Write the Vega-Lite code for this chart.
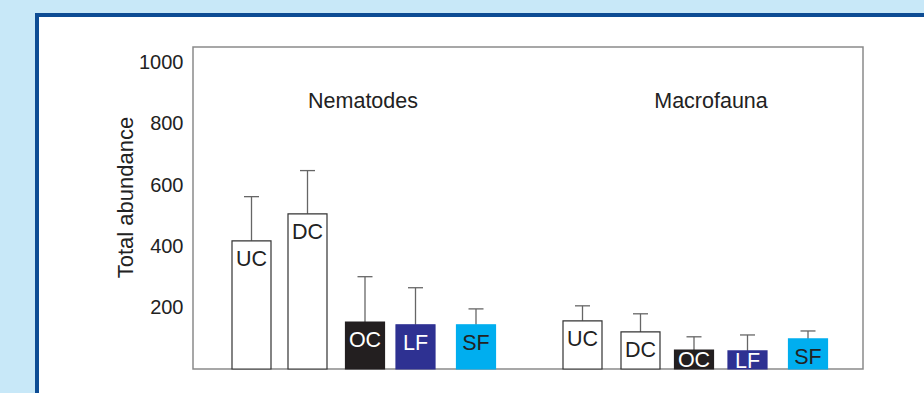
{
  "$schema": "https://vega.github.io/schema/vega-lite/v6.json",
  "width": 670,
  "height": 322,
  "autosize": {"type": "none"},
  "padding": {"left": 193, "top": 47, "right": 61, "bottom": 24},
  "background": "#ffffff",
  "config": {
    "font": "Liberation Sans",
    "view": {"stroke": null},
    "axisY": {
      "grid": false, "ticks": false, "domain": false, "zindex": 2,
      "labelFontSize": 20, "labelColor": "#222222", "labelPadding": 10,
      "titleFontSize": 22, "titleFontWeight": "normal", "titleColor": "#222222",
      "titleAngle": -90, "titleAlign": "center", "titleBaseline": "middle",
      "titleX": -68, "titleY": 150
    }
  },
  "data": {
    "values": [
      {"taxon": "Nematodes", "group": "UC", "pos": 58.5, "value": 418, "err": 562},
      {"taxon": "Nematodes", "group": "DC", "pos": 114.5, "value": 506, "err": 647},
      {"taxon": "Nematodes", "group": "OC", "pos": 172, "value": 153, "err": 301},
      {"taxon": "Nematodes", "group": "LF", "pos": 222.5, "value": 144, "err": 265},
      {"taxon": "Nematodes", "group": "SF", "pos": 283, "value": 144, "err": 196},
      {"taxon": "Macrofauna", "group": "UC", "pos": 389.5, "value": 157, "err": 206},
      {"taxon": "Macrofauna", "group": "DC", "pos": 447.5, "value": 121, "err": 180},
      {"taxon": "Macrofauna", "group": "OC", "pos": 501, "value": 62, "err": 105},
      {"taxon": "Macrofauna", "group": "LF", "pos": 554.5, "value": 59, "err": 111},
      {"taxon": "Macrofauna", "group": "SF", "pos": 615, "value": 98, "err": 124}
    ]
  },
  "layer": [
    {
      "data": {"values": [{}]},
      "mark": {"type": "rect", "fill": "#c8e8f8", "strokeWidth": 0},
      "encoding": {
        "x": {"datum": -400, "type": "quantitative", "scale": {"domain": [0, 670], "nice": false, "zero": false, "padding": 0}, "axis": null},
        "x2": {"datum": 900},
        "y": {"datum": 1400, "type": "quantitative", "scale": {"domain": [0, 1050], "nice": false, "zero": false}, "title": "Total abundance", "axis": {"values": [200, 400, 600, 800, 1000], "format": "d"}},
        "y2": {"datum": 1161}
      }
    },
    {
      "data": {"values": [{}]},
      "mark": {"type": "rect", "fill": "#c8e8f8", "strokeWidth": 0},
      "encoding": {
        "x": {"datum": -400, "type": "quantitative", "scale": {"domain": [0, 670], "nice": false, "zero": false, "padding": 0}, "axis": null},
        "x2": {"datum": -158},
        "y": {"datum": 1400, "type": "quantitative", "scale": {"domain": [0, 1050], "nice": false, "zero": false}, "title": "Total abundance", "axis": {"values": [200, 400, 600, 800, 1000], "format": "d"}},
        "y2": {"datum": -300}
      }
    },
    {
      "data": {"values": [{}]},
      "mark": {"type": "rect", "fill": null, "stroke": "#0d4c94", "strokeWidth": 4},
      "encoding": {
        "x": {"datum": -156, "type": "quantitative", "scale": {"domain": [0, 670], "nice": false, "zero": false, "padding": 0}, "axis": null},
        "x2": {"datum": 900},
        "y": {"datum": 1154, "type": "quantitative", "scale": {"domain": [0, 1050], "nice": false, "zero": false}, "title": "Total abundance", "axis": {"values": [200, 400, 600, 800, 1000], "format": "d"}},
        "y2": {"datum": -300}
      }
    },
    {
      "data": {"values": [{}]},
      "mark": {"type": "rect", "fill": null, "stroke": "#8a8a8a", "strokeWidth": 1.5},
      "encoding": {
        "x": {"datum": 0, "type": "quantitative", "scale": {"domain": [0, 670], "nice": false, "zero": false, "padding": 0}, "axis": null},
        "x2": {"datum": 670},
        "y": {"datum": 1050, "type": "quantitative", "scale": {"domain": [0, 1050], "nice": false, "zero": false}, "title": "Total abundance", "axis": {"values": [200, 400, 600, 800, 1000], "format": "d"}},
        "y2": {"datum": 0}
      }
    },
    {
      "mark": {"type": "rule", "color": "#666666", "strokeWidth": 1.3},
      "encoding": {
        "x": {"field": "pos", "type": "quantitative", "scale": {"domain": [0, 670], "nice": false, "zero": false, "padding": 0}, "axis": null},
        "y": {"field": "value", "type": "quantitative", "scale": {"domain": [0, 1050], "nice": false, "zero": false}, "title": "Total abundance", "axis": {"values": [200, 400, 600, 800, 1000], "format": "d"}},
        "y2": {"field": "err"}
      }
    },
    {
      "mark": {"type": "rule", "color": "#666666", "strokeWidth": 1.3, "xOffset": -7.5, "x2Offset": 7.5},
      "encoding": {
        "x": {"field": "pos", "type": "quantitative", "scale": {"domain": [0, 670], "nice": false, "zero": false, "padding": 0}, "axis": null},
        "x2": {"field": "pos"},
        "y": {"field": "err", "type": "quantitative", "scale": {"domain": [0, 1050], "nice": false, "zero": false}, "title": "Total abundance", "axis": {"values": [200, 400, 600, 800, 1000], "format": "d"}}
      }
    },
    {
      "mark": {"type": "bar", "size": 39, "strokeWidth": 1.2},
      "encoding": {
        "x": {"field": "pos", "type": "quantitative", "scale": {"domain": [0, 670], "nice": false, "zero": false, "padding": 0}, "axis": null},
        "y": {"field": "value", "type": "quantitative", "scale": {"domain": [0, 1050], "nice": false, "zero": false}, "title": "Total abundance", "axis": {"values": [200, 400, 600, 800, 1000], "format": "d"}},
        "fill": {"field": "group", "type": "nominal", "scale": {"domain": ["UC", "DC", "OC", "LF", "SF"], "range": ["#ffffff", "#ffffff", "#231f20", "#2e3192", "#00aeef"]}, "legend": null},
        "stroke": {"field": "group", "type": "nominal", "scale": {"domain": ["UC", "DC", "OC", "LF", "SF"], "range": ["#333333", "#333333", "#231f20", "#2e3192", "#00aeef"]}, "legend": null}
      }
    },
    {
      "mark": {"type": "text", "fontSize": 21.5, "baseline": "alphabetic", "align": "center", "dy": {"expr": "datum.value < 75 ? 17 : 25"}},
      "encoding": {
        "x": {"field": "pos", "type": "quantitative", "scale": {"domain": [0, 670], "nice": false, "zero": false, "padding": 0}, "axis": null},
        "y": {"field": "value", "type": "quantitative", "scale": {"domain": [0, 1050], "nice": false, "zero": false}, "title": "Total abundance", "axis": {"values": [200, 400, 600, 800, 1000], "format": "d"}},
        "text": {"field": "group"},
        "color": {"field": "group", "type": "nominal", "scale": {"domain": ["UC", "DC", "OC", "LF", "SF"], "range": ["#222222", "#222222", "#ffffff", "#ffffff", "#222222"]}, "legend": null}
      }
    },
    {
      "data": {"values": [{}]},
      "mark": {"type": "text", "fontSize": 21.5, "baseline": "alphabetic", "align": "center", "color": "#222222"},
      "encoding": {
        "x": {"datum": 170, "type": "quantitative", "scale": {"domain": [0, 670], "nice": false, "zero": false, "padding": 0}, "axis": null},
        "y": {"datum": 851, "type": "quantitative", "scale": {"domain": [0, 1050], "nice": false, "zero": false}, "title": "Total abundance", "axis": {"values": [200, 400, 600, 800, 1000], "format": "d"}},
        "text": {"value": "Nematodes"}
      }
    },
    {
      "data": {"values": [{}]},
      "mark": {"type": "text", "fontSize": 21.5, "baseline": "alphabetic", "align": "center", "color": "#222222"},
      "encoding": {
        "x": {"datum": 518, "type": "quantitative", "scale": {"domain": [0, 670], "nice": false, "zero": false, "padding": 0}, "axis": null},
        "y": {"datum": 851, "type": "quantitative", "scale": {"domain": [0, 1050], "nice": false, "zero": false}, "title": "Total abundance", "axis": {"values": [200, 400, 600, 800, 1000], "format": "d"}},
        "text": {"value": "Macrofauna"}
      }
    }
  ]
}
